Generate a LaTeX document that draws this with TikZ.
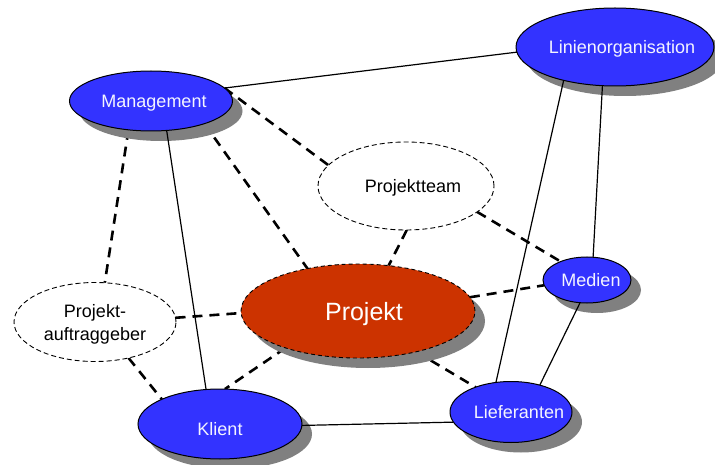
\documentclass[tikz,border=0pt]{standalone}
\usepackage{fontspec}
\setmainfont{Liberation Sans}
\usetikzlibrary{shapes.geometric,shadows,backgrounds}
\definecolor{nodeblue}{HTML}{3333FF}
\definecolor{projred}{HTML}{CC3300}
\definecolor{shadowgray}{HTML}{808080}
\definecolor{lighttext}{HTML}{F4F4FF}
\tikzset{
  myshadow/.style={drop shadow={shadow xshift=10pt,shadow yshift=-10pt,fill=shadowgray,opacity=1}},
  baseoval/.style={ellipse, inner xsep=-25pt, inner ysep=-6pt, outer sep=0pt, align=center, text depth=0pt},
  blueoval/.style={baseoval, draw=black, line width=1pt, fill=nodeblue, text=lighttext,
    font=\fontsize{18}{23}\selectfont, myshadow},
  dashoval/.style={baseoval, draw=black, line width=0.9pt, dash pattern=on 5pt off 3pt,
    fill=white, text=black, font=\fontsize{18}{23}\selectfont},
  projoval/.style={baseoval, draw=black, line width=0.9pt, dash pattern=on 4pt off 3pt,
    fill=projred, text=white, font=\fontsize{25}{30}\selectfont, myshadow},
  solidlink/.style={draw=black, line width=1.2pt},
  dashlink/.style={draw=black, line width=2.6pt, dash pattern=on 10pt off 7pt}
}
\begin{document}
\begin{tikzpicture}[x=1pt,y=-1pt]
\useasboundingbox (0,0) rectangle (715,465);

\node[blueoval, minimum width=163pt, minimum height=60pt] (mgmt) at (151,101) {\hspace*{6pt}Management};
\node[blueoval, minimum width=198pt, minimum height=78pt] (linie) at (615,47) {\hspace*{14pt}Linienorganisation};
\node[dashoval, minimum width=176pt, minimum height=88pt] (team) at (406,186) {\hspace*{14pt}Projektteam};
\node[dashoval, minimum width=162pt, minimum height=79pt] (auftr) at (95,322) {Projekt-\\auftraggeber};
\node[projoval, minimum width=234pt, minimum height=94pt] (proj) at (358,311) {\hspace*{12pt}Projekt};
\node[blueoval, minimum width=164pt, minimum height=70pt] (klient) at (220,424) {\raisebox{-10pt}{Klient}};
\node[blueoval, minimum width=88pt, minimum height=46pt] (medien) at (587,280) {\hspace*{8pt}Medien};
\node[blueoval, minimum width=122pt, minimum height=61pt] (lief) at (511,412) {\hspace*{16pt}Lieferanten};

\begin{scope}[on background layer]
  \fill[white] (0,0) rectangle (715,465);
  \draw[dashlink] (mgmt.10) -- (team.165);
  \draw[dashlink] (mgmt.-23) -- (proj.140);
  \draw[dashlink] (mgmt.-128) -- (auftr.76);
  \draw[dashlink] (team.-89) -- (proj.56);
  \draw[dashlink] (team.-20) -- (medien.145);
  \draw[dashlink] (proj.7) -- (medien.187);
  \draw[dashlink] (auftr.3) -- (proj.181);
  \draw[dashlink] (proj.207) -- (klient.82);
  \draw[dashlink] (proj.-35) -- (lief.145);
  \draw[dashlink] (auftr.-47) -- (klient.157);
\end{scope}

\draw[solidlink] (mgmt.10) -- (linie.183);
\draw[solidlink] (mgmt.-62) -- (klient.112);
\draw[solidlink] (linie.213) -- (lief.117);
\draw[solidlink] (linie.-108) -- (medien.75);
\draw[solidlink] (medien.-107) -- (lief.43);
\draw[solidlink] (klient.-1) -- (lief.190);
\end{tikzpicture}
\end{document}
